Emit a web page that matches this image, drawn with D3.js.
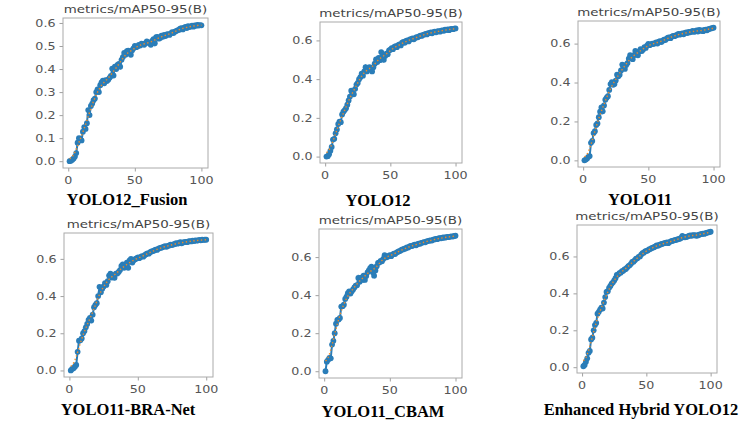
<!DOCTYPE html>
<html>
<head>
<meta charset="utf-8">
<script src="https://cdn.jsdelivr.net/npm/d3@7"></script>
<style>
  body { margin: 0; background: #fff; }
  svg { display: block; }
</style>
</head>
<body>
<div id="chart"></div>
<script>
// mAP50-95 per epoch
const modelNames = ["YOLO12_Fusion", "YOLO12", "YOLO11", "YOLO11-BRA-Net", "YOLO11_CBAM", "Enhanced Hybrid YOLO12"];
const chartTitle = "metrics/mAP50-95(B)";
const xTicks = [0, 50, 100];
const yTicksFine = [0, 0.1, 0.2, 0.3, 0.4, 0.5, 0.6];
const yTicksCoarse = [0, 0.2, 0.4, 0.6];

const fusionMap = [
  0.000, 0.002, 0.006, 0.012, 0.020, 0.035, 0.080, 0.100, 0.098, 0.090,
  0.128, 0.148, 0.140, 0.165, 0.222, 0.200, 0.240, 0.250, 0.265, 0.272,
  0.300, 0.312, 0.300, 0.330, 0.342, 0.350, 0.338, 0.352, 0.348, 0.354,
  0.362, 0.370, 0.402, 0.372, 0.410, 0.400, 0.418, 0.422, 0.410, 0.440,
  0.452, 0.470, 0.462, 0.478, 0.480, 0.470, 0.462, 0.482, 0.490, 0.500,
  0.495, 0.498, 0.505, 0.502, 0.510, 0.508, 0.505, 0.512, 0.520, 0.516,
  0.512, 0.505, 0.522, 0.530, 0.512, 0.538, 0.540, 0.532, 0.535, 0.545,
  0.540, 0.548, 0.543, 0.550, 0.552, 0.548, 0.555, 0.560, 0.556, 0.562,
  0.565, 0.568, 0.570, 0.575, 0.578, 0.572, 0.580, 0.583, 0.578, 0.586,
  0.582, 0.585, 0.588, 0.584, 0.590, 0.588, 0.592, 0.589, 0.591, 0.590
];
const yolo12Map = [
  0.000, 0.002, 0.012, 0.030, 0.050, 0.088, 0.092, 0.120, 0.140, 0.168,
  0.180, 0.178, 0.218, 0.232, 0.240, 0.250, 0.268, 0.290, 0.310, 0.340,
  0.330, 0.322, 0.350, 0.372, 0.380, 0.400, 0.410, 0.428, 0.418, 0.440,
  0.462, 0.440, 0.458, 0.462, 0.450, 0.440, 0.462, 0.480, 0.502, 0.488,
  0.510, 0.498, 0.540, 0.520, 0.500, 0.520, 0.532, 0.528, 0.548, 0.552,
  0.560, 0.555, 0.566, 0.570, 0.565, 0.576, 0.580, 0.574, 0.588, 0.592,
  0.588, 0.597, 0.600, 0.595, 0.605, 0.606, 0.611, 0.606, 0.612, 0.617,
  0.616, 0.621, 0.625, 0.623, 0.629, 0.630, 0.634, 0.631, 0.637, 0.638,
  0.641, 0.637, 0.643, 0.645, 0.642, 0.647, 0.648, 0.645, 0.651, 0.652,
  0.650, 0.655, 0.654, 0.657, 0.653, 0.658, 0.660, 0.658, 0.661, 0.662
];
const yolo11Map = [
  0.000, 0.004, 0.010, 0.018, 0.022, 0.090, 0.100, 0.140, 0.150, 0.182,
  0.190, 0.222, 0.250, 0.272, 0.252, 0.282, 0.312, 0.322, 0.330, 0.362,
  0.392, 0.402, 0.388, 0.392, 0.410, 0.440, 0.432, 0.440, 0.462, 0.492,
  0.480, 0.470, 0.490, 0.500, 0.522, 0.540, 0.530, 0.520, 0.540, 0.562,
  0.550, 0.540, 0.560, 0.572, 0.562, 0.570, 0.582, 0.578, 0.590, 0.598,
  0.592, 0.596, 0.600, 0.598, 0.602, 0.606, 0.600, 0.610, 0.612, 0.608,
  0.615, 0.620, 0.618, 0.625, 0.630, 0.632, 0.628, 0.636, 0.640, 0.638,
  0.642, 0.645, 0.650, 0.646, 0.650, 0.652, 0.648, 0.655, 0.658, 0.654,
  0.660, 0.658, 0.662, 0.665, 0.660, 0.664, 0.668, 0.662, 0.670, 0.666,
  0.668, 0.664, 0.670, 0.672, 0.668, 0.674, 0.676, 0.678, 0.680, 0.682
];
const braNetMap = [
  0.000, 0.008, 0.012, 0.020, 0.030, 0.100, 0.160, 0.162, 0.172, 0.200,
  0.212, 0.232, 0.250, 0.272, 0.282, 0.268, 0.300, 0.340, 0.352, 0.362,
  0.400, 0.450, 0.420, 0.440, 0.452, 0.470, 0.460, 0.480, 0.510, 0.520,
  0.500, 0.512, 0.498, 0.520, 0.522, 0.530, 0.540, 0.562, 0.570, 0.552,
  0.560, 0.580, 0.552, 0.592, 0.600, 0.580, 0.592, 0.598, 0.602, 0.608,
  0.604, 0.610, 0.615, 0.612, 0.620, 0.625, 0.630, 0.628, 0.636, 0.640,
  0.642, 0.645, 0.650, 0.648, 0.655, 0.658, 0.660, 0.662, 0.666, 0.668,
  0.665, 0.670, 0.672, 0.676, 0.674, 0.678, 0.680, 0.684, 0.682, 0.686,
  0.690, 0.684, 0.688, 0.690, 0.692, 0.690, 0.694, 0.696, 0.694, 0.698,
  0.696, 0.700, 0.698, 0.700, 0.702, 0.700, 0.703, 0.702, 0.704, 0.703
];
const cbamMap = [
  0.000, 0.050, 0.060, 0.070, 0.068, 0.140, 0.160, 0.200, 0.250, 0.270,
  0.272, 0.280, 0.340, 0.342, 0.350, 0.380, 0.392, 0.410, 0.420, 0.408,
  0.420, 0.430, 0.440, 0.450, 0.452, 0.490, 0.470, 0.492, 0.480, 0.502,
  0.480, 0.500, 0.520, 0.530, 0.542, 0.550, 0.520, 0.502, 0.530, 0.552,
  0.570, 0.572, 0.580, 0.578, 0.590, 0.610, 0.598, 0.600, 0.606, 0.610,
  0.605, 0.613, 0.618, 0.616, 0.623, 0.627, 0.631, 0.633, 0.639, 0.640,
  0.644, 0.645, 0.651, 0.650, 0.656, 0.659, 0.658, 0.663, 0.665, 0.662,
  0.668, 0.671, 0.670, 0.675, 0.676, 0.679, 0.678, 0.683, 0.684, 0.686,
  0.688, 0.687, 0.692, 0.693, 0.695, 0.694, 0.698, 0.700, 0.699, 0.702,
  0.703, 0.702, 0.705, 0.706, 0.705, 0.708, 0.709, 0.708, 0.711, 0.712
];
const hybridMap = [
  0.005, 0.012, 0.030, 0.048, 0.078, 0.088, 0.150, 0.160, 0.200, 0.228,
  0.240, 0.290, 0.300, 0.312, 0.322, 0.318, 0.350, 0.380, 0.408, 0.412,
  0.430, 0.440, 0.452, 0.460, 0.470, 0.482, 0.500, 0.502, 0.510, 0.512,
  0.520, 0.522, 0.530, 0.532, 0.540, 0.548, 0.552, 0.560, 0.570, 0.572,
  0.580, 0.588, 0.590, 0.598, 0.600, 0.610, 0.618, 0.620, 0.628, 0.630,
  0.632, 0.638, 0.640, 0.645, 0.648, 0.650, 0.655, 0.660, 0.658, 0.662,
  0.665, 0.668, 0.670, 0.672, 0.674, 0.676, 0.672, 0.678, 0.682, 0.684,
  0.686, 0.688, 0.690, 0.692, 0.694, 0.696, 0.700, 0.712, 0.705, 0.704,
  0.706, 0.708, 0.712, 0.714, 0.712, 0.716, 0.714, 0.716, 0.712, 0.714,
  0.718, 0.720, 0.722, 0.724, 0.722, 0.726, 0.728, 0.730, 0.732, 0.734
];

const seriesList = [fusionMap, yolo12Map, yolo11Map, braNetMap, cbamMap, hybridMap];
const tickSets = [yTicksFine, yTicksCoarse, yTicksCoarse, yTicksCoarse, yTicksCoarse, yTicksCoarse];

// frame boxes and caption spots for the 2x3 grid
const boxes = [
  { l: 63,  r: 208, t: 18,  b: 168, cx: 127, cy: 205 },
  { l: 320, r: 462, t: 22,  b: 163, cx: 378, cy: 206 },
  { l: 578, r: 720, t: 21,  b: 167, cx: 640, cy: 205 },
  { l: 64,  r: 213, t: 233, b: 377, cx: 128, cy: 415 },
  { l: 319, r: 462, t: 229, b: 378, cx: 383, cy: 417 },
  { l: 577, r: 717, t: 225, b: 373, cx: 641, cy: 415 }
];

const width = 741, height = 421;
const stretch = 1.22;   // the figure was pasted a bit wider than tall

const svg = d3.select("#chart").append("svg")
  .attr("width", width)
  .attr("height", height);

// same smoothing as the ultralytics plot (gaussian, sigma 3, reflect)
function smooth(ys, sigma) {
  const rad = Math.round(4 * sigma);
  const w = d3.range(-rad, rad + 1).map(k => Math.exp(-0.5 * (k / sigma) ** 2));
  const sw = d3.sum(w);
  const n = ys.length;
  return ys.map((_, i) => {
    let s = 0;
    for (let k = -rad; k <= rad; k++) {
      let j = i + k;
      if (j < 0) j = -j - 1;
      if (j >= n) j = 2 * n - j - 1;
      s += w[k + rad] * ys[j];
    }
    return s / sw;
  });
}

function stretchedText(parent, x, y, str, anchor, size, color, family) {
  parent.append("g")
    .attr("transform", `translate(${x},${y})`)
    .append("text")
    .attr("transform", `scale(${stretch},1)`)
    .attr("text-anchor", anchor)
    .style("font-family", family || "'DejaVu Sans', sans-serif")
    .style("font-size", size + "px")
    .style("fill", color)
    .text(str);
}

seriesList.forEach((vals, p) => {
  const box = boxes[p];
  const pts = vals.map((v, i) => ({ x: i + 1, y: v }));

  // matplotlib-style 5% margins
  const xExt = [1, vals.length];
  const xPad = (xExt[1] - xExt[0]) * 0.05;
  const yExt = d3.extent(vals);
  const yPad = (yExt[1] - yExt[0]) * 0.05;

  const x = d3.scaleLinear().domain([xExt[0] - xPad, xExt[1] + xPad]).range([box.l, box.r]);
  const y = d3.scaleLinear().domain([yExt[0] - yPad, yExt[1] + yPad]).range([box.b, box.t]);

  const g = svg.append("g");

  // axes
  const yAxis = d3.axisLeft(y).tickValues(tickSets[p]).tickSize(3.5).tickPadding(4).tickFormat(d3.format(".1f"));
  const xAxis = d3.axisBottom(x).tickValues(xTicks).tickSize(3.5).tickPadding(4).tickFormat(d3.format("d"));

  const ya = g.append("g").attr("transform", `translate(${box.l},0)`).call(yAxis);
  const xa = g.append("g").attr("transform", `translate(0,${box.b})`).call(xAxis);
  [ya, xa].forEach(a => {
    a.select(".domain").remove();
    a.selectAll(".tick line").attr("stroke", "#888").attr("stroke-width", 0.8);
    a.selectAll(".tick text").remove();
  });
  tickSets[p].forEach(t => stretchedText(g, box.l - 7.5, y(t) + 3.8, d3.format(".1f")(t), "end", 10.4, "#555"));
  xTicks.forEach(t => stretchedText(g, x(t), box.b + 16, String(t), "middle", 10.4, "#555"));

  // frame
  g.append("rect")
    .attr("x", box.l).attr("y", box.t)
    .attr("width", box.r - box.l).attr("height", box.b - box.t)
    .attr("fill", "none").attr("stroke", "#aaa").attr("stroke-width", 1);

  // raw curve
  g.append("path")
    .datum(pts)
    .attr("fill", "none")
    .attr("stroke", "#2a7db8")
    .attr("stroke-width", 2)
    .attr("d", d3.line().x(d => x(d.x)).y(d => y(d.y)));

  g.selectAll(".dot")
    .data(pts)
    .enter().append("circle")
    .attr("cx", d => x(d.x))
    .attr("cy", d => y(d.y))
    .attr("r", 2.9)
    .attr("fill", "#2a7db8");

  // smoothed curve
  const sm = smooth(vals, 3).map((v, i) => ({ x: i + 1, y: v }));
  g.append("path")
    .datum(sm)
    .attr("fill", "none")
    .attr("stroke", "#f08a24")
    .attr("stroke-width", 1.4)
    .attr("stroke-dasharray", "1.4,2.4")
    .attr("d", d3.line().x(d => x(d.x)).y(d => y(d.y)));

  // title and caption
  stretchedText(g, (box.l + box.r) / 2, box.t - 5, chartTitle, "middle", 11, "#444");
  g.append("text")
    .attr("x", box.cx)
    .attr("y", box.cy)
    .attr("text-anchor", "middle")
    .style("font-family", "'Liberation Serif', 'Times New Roman', serif")
    .style("font-weight", "bold")
    .style("font-size", "16.5px")
    .style("fill", "#000")
    .text(modelNames[p]);
});
</script>
</body>
</html>
